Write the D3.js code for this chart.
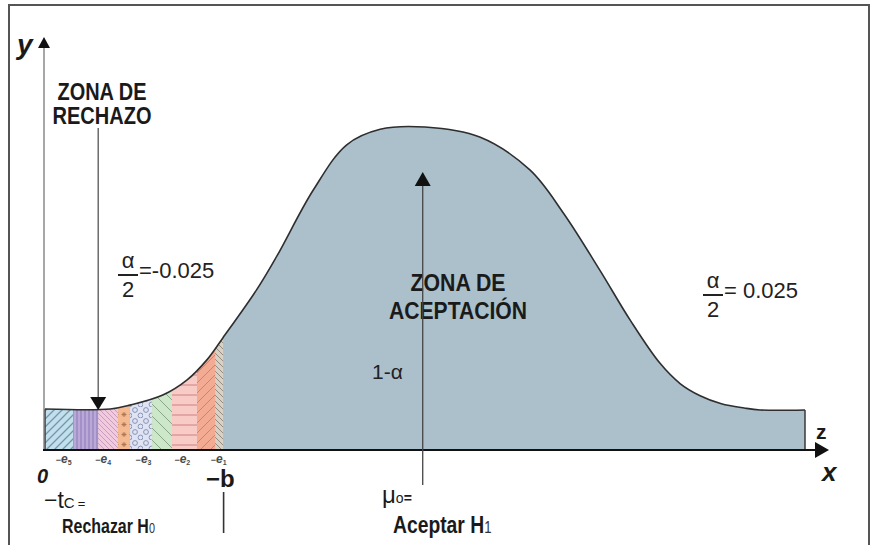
<!DOCTYPE html>
<html>
<head>
<meta charset="utf-8">
<script src="https://cdn.jsdelivr.net/npm/d3@7"></script>
<style>
  body { margin: 0; background: #fff; }
  svg { display: block; }
  .bold { font-family: "Liberation Sans", Arial, sans-serif; font-weight: bold; }
  .reg { font-family: "Liberation Sans", Arial, sans-serif; }
</style>
</head>
<body>
<svg id="chart" width="876" height="545"></svg>
<script>
// curve (x: 0..100 along the axis, y: 0..100 of peak height)
const curveX = [0, 8.6, 11.2, 15.5, 18.7, 21.3, 23.4, 27.9, 30.5, 35.3, 39.7, 44.1, 50, 57.2, 63.8, 68.2, 73.0, 77.0, 80.9, 83.6, 86.2, 89.0, 92.0, 94.1, 100];
const curveY = [12.7, 12.7, 13.9, 17.0, 21.7, 27.9, 34.7, 49.8, 60.0, 80.5, 94.5, 99.3, 100, 96.9, 86.7, 73.4, 55.7, 40.2, 26.9, 20.5, 16.8, 14.3, 13.0, 12.4, 12.4];

// rejection zone split into patterned strips
const stripEdges = [0, 3.7, 7.0, 9.6, 11.2, 14.1, 16.7, 20.0, 22.4, 23.4];
const stripPatterns = ["p1", "p2", "p3", "p4", "p5", "p6", "p7", "p8", "p9"];

// tick labels under the axis
const tickPos = [2.4, 7.6, 12.9, 18.0, 22.8];
const tickSub = ["5", "4", "3", "2", "1"];

const criticalX = 23.5;   // -b
const meanX = 49.7;       // mu0
const rejectArrowX = 7.0;

const curve = curveX.map((x, i) => ({ x: x, y: curveY[i] }));

const svg = d3.select("#chart");
const x = d3.scaleLinear().domain([0, 100]).range([45, 805]);
const y = d3.scaleLinear().domain([0, 100]).range([450, 127]);

// frame
svg.append("rect")
    .attr("x", 9).attr("y", 5)
    .attr("width", 860).attr("height", 560)
    .attr("fill", "none")
    .attr("stroke", "#555")
    .attr("stroke-width", 2);

const defs = svg.append("defs");

function pattern(id, w, h, bg, draw) {
    const p = defs.append("pattern")
        .attr("id", id)
        .attr("patternUnits", "userSpaceOnUse")
        .attr("width", w).attr("height", h);
    p.append("rect").attr("width", w).attr("height", h).attr("fill", bg);
    draw(p);
}

pattern("p1", 8, 8, "#bfe0ec", p => p.append("path")
    .attr("d", "M-2,2 L2,-2 M0,8 L8,0 M6,10 L10,6")
    .attr("stroke", "#7b93ab").attr("stroke-width", 1.3));
pattern("p2", 4, 8, "#b9a8d8", p => p.append("path")
    .attr("d", "M1,0 V8").attr("stroke", "#8b79b6").attr("stroke-width", 1));
pattern("p3", 5, 5, "#f2cadd", p => p.append("path")
    .attr("d", "M0,0 L5,5 M-1,4 L1,6 M4,-1 L6,1")
    .attr("stroke", "#c89cc0").attr("stroke-width", 1));
pattern("p4", 8, 10, "#f5ba92", p => p.append("path")
    .attr("d", "M4,2 V7 M1.5,4.5 H6.5 M2.3,2.8 L5.7,6.2 M5.7,2.8 L2.3,6.2")
    .attr("stroke", "#a8744f").attr("stroke-width", 0.9));
pattern("p5", 11, 11, "#dfe3f3", p => {
    p.append("circle").attr("cx", 3).attr("cy", 3).attr("r", 2.4)
        .attr("fill", "none").attr("stroke", "#7d8cae").attr("stroke-width", 0.9);
    p.append("circle").attr("cx", 8.5).attr("cy", 8.5).attr("r", 2.4)
        .attr("fill", "none").attr("stroke", "#7d8cae").attr("stroke-width", 0.9);
});
pattern("p6", 12, 12, "#cde8c8", p => p.append("path")
    .attr("d", "M0,0 L12,12").attr("stroke", "#8aa58a").attr("stroke-width", 1));
pattern("p7", 10, 10, "#f9cbc6", p => p.append("path")
    .attr("d", "M0,5 H10").attr("stroke", "#d38e8e").attr("stroke-width", 1.2));
pattern("p8", 10, 10, "#f3ac93", p => p.append("path")
    .attr("d", "M0,10 L10,0 M-1,1 L1,-1 M9,11 L11,9")
    .attr("stroke", "#d5806a").attr("stroke-width", 1));
pattern("p9", 6, 6, "#d9d1c5", p => p.append("path")
    .attr("d", "M0,0 L6,6 M-1,5 L1,7 M5,-1 L7,1")
    .attr("stroke", "#938a80").attr("stroke-width", 1));

const area = d3.area()
    .x(d => x(d.x))
    .y0(y(0))
    .y1(d => y(d.y))
    .curve(d3.curveCatmullRom.alpha(0.5));

defs.append("clipPath").attr("id", "under")
    .append("path").attr("d", area(curve));

svg.append("path")
    .attr("d", area(curve))
    .attr("fill", "#abc0cb");

svg.append("g")
    .attr("clip-path", "url(#under)")
    .selectAll("rect")
    .data(stripPatterns)
    .join("rect")
    .attr("x", (d, i) => x(stripEdges[i]))
    .attr("width", (d, i) => x(stripEdges[i + 1]) - x(stripEdges[i]) + 0.3)
    .attr("y", y(100))
    .attr("height", y(0) - y(100))
    .attr("fill", d => `url(#${d})`);

// outline of the curve
const line = d3.line()
    .x(d => x(d.x))
    .y(d => y(d.y))
    .curve(d3.curveCatmullRom.alpha(0.5));

svg.append("path")
    .attr("d", line(curve))
    .attr("fill", "none")
    .attr("stroke", "#2e2e2e")
    .attr("stroke-width", 1.6);

svg.selectAll(".edge")
    .data([curve[0], curve[curve.length - 1]])
    .join("line")
    .attr("class", "edge")
    .attr("x1", d => x(d.x)).attr("x2", d => x(d.x))
    .attr("y1", d => y(d.y)).attr("y2", y(0))
    .attr("stroke", "#3a3a3a")
    .attr("stroke-width", 1.5);

// y axis
svg.append("line")
    .attr("x1", x(0) - 1).attr("x2", x(0) - 1)
    .attr("y1", y(0)).attr("y2", 46)
    .attr("stroke", "#777").attr("stroke-width", 1.3);
svg.append("path")
    .attr("d", `M${x(0) - 1},37 L${x(0) - 7},48 L${x(0) + 5},48 Z`)
    .attr("fill", "#111");

// x axis with the e ticks
const xAxis = d3.axisBottom(x)
    .tickValues(tickPos)
    .tickSize(0)
    .tickFormat("");

const axisG = svg.append("g")
    .attr("transform", `translate(0,${y(0)})`)
    .call(xAxis);
axisG.select(".domain").remove();
axisG.selectAll(".tick text").each(function(d, i) {
    const t = d3.select(this)
        .attr("y", 13)
        .attr("dy", null)
        .attr("fill", "#4a4a4a")
        .attr("font-family", "Liberation Sans, Arial, sans-serif")
        .attr("font-weight", "bold")
        .attr("font-style", "italic")
        .attr("font-size", 12);
    t.append("tspan").attr("font-size", 9).attr("font-style", "normal").text("−");
    t.append("tspan").text("e");
    t.append("tspan").attr("font-size", 7).attr("font-style", "normal").attr("dy", 2).text(tickSub[i]);
});

svg.append("line")
    .attr("x1", x(0) - 2).attr("x2", 818)
    .attr("y1", y(0)).attr("y2", y(0))
    .attr("stroke", "#111").attr("stroke-width", 2);
svg.append("path")
    .attr("d", `M829,${y(0)} L815,${y(0) - 8} L815,${y(0) + 8} Z`)
    .attr("fill", "#111");

// axis names
svg.append("text").attr("class", "reg")
    .attr("x", 17).attr("y", 54)
    .attr("font-size", 28).attr("font-weight", "bold").attr("font-style", "italic")
    .attr("fill", "#1a1a1a").text("y");
svg.append("text").attr("class", "reg")
    .attr("x", 822).attr("y", 481)
    .attr("font-size", 26).attr("font-weight", "bold").attr("font-style", "italic")
    .attr("fill", "#1a1a1a").text("x");
svg.append("text").attr("class", "reg")
    .attr("x", 816).attr("y", 439)
    .attr("font-size", 21).attr("font-weight", "bold")
    .attr("fill", "#1a1a1a").text("z");
svg.append("text").attr("class", "reg")
    .attr("x", 37).attr("y", 483)
    .attr("font-size", 20).attr("font-weight", "bold").attr("font-style", "italic")
    .attr("fill", "#1a1a1a").text("0");

// condensed bold label
function narrowText(str, xc, yb, size, len, anchor) {
    return svg.append("text").attr("class", "bold")
        .attr("x", xc).attr("y", yb)
        .attr("text-anchor", anchor || "middle")
        .attr("font-size", size)
        .attr("fill", "#1a1a1a")
        .attr("textLength", len)
        .attr("lengthAdjust", "spacingAndGlyphs")
        .text(str);
}

// condensed label with a small index, drawn by squeezing horizontally
function squeezed(main, sub, xl, yb, size, sx) {
    const t = svg.append("text").attr("class", "bold")
        .attr("transform", `translate(${xl},${yb}) scale(${sx},1)`)
        .attr("font-size", size)
        .attr("fill", "#1a1a1a");
    t.append("tspan").text(main);
    t.append("tspan").attr("font-size", size * 0.68).attr("font-weight", "normal")
        .attr("fill", "#333").text(sub);
}

// rejection zone label and arrow
narrowText("ZONA DE", 102, 100, 23, 89);
narrowText("RECHAZO", 102, 124, 23, 99);

const rejTipY = y(curveY[0]);
svg.append("line")
    .attr("x1", x(rejectArrowX)).attr("x2", x(rejectArrowX))
    .attr("y1", 128).attr("y2", rejTipY - 10)
    .attr("stroke", "#555").attr("stroke-width", 1.3);
svg.append("path")
    .attr("d", `M${x(rejectArrowX)},${rejTipY + 1} L${x(rejectArrowX) - 8},${rejTipY - 12} L${x(rejectArrowX) + 8},${rejTipY - 12} Z`)
    .attr("fill", "#111");

// acceptance zone
narrowText("ZONA DE", 458, 291, 24, 95);
narrowText("ACEPTACIÓN", 458, 319, 24, 138);

svg.append("line")
    .attr("x1", x(meanX)).attr("x2", x(meanX))
    .attr("y1", 184).attr("y2", 485)
    .attr("stroke", "#444").attr("stroke-width", 1.3);
svg.append("path")
    .attr("d", `M${x(meanX)},172 L${x(meanX) - 8},186 L${x(meanX) + 8},186 Z`)
    .attr("fill", "#111");

svg.append("text").attr("class", "reg")
    .attr("x", 372).attr("y", 379)
    .attr("font-size", 21).attr("fill", "#222").text("1-α");

// alpha/2 labels
function half(xLeft, baseAlpha, value) {
    const g = svg.append("g").attr("fill", "#222");
    g.append("text").attr("class", "reg")
        .attr("x", xLeft + 10).attr("y", baseAlpha).attr("text-anchor", "middle")
        .attr("font-size", 22).text("α");
    g.append("line")
        .attr("x1", xLeft).attr("x2", xLeft + 20)
        .attr("y1", baseAlpha + 7).attr("y2", baseAlpha + 7)
        .attr("stroke", "#222").attr("stroke-width", 2);
    g.append("text").attr("class", "reg")
        .attr("x", xLeft + 10).attr("y", baseAlpha + 29).attr("text-anchor", "middle")
        .attr("font-size", 22).text("2");
    g.append("text").attr("class", "reg")
        .attr("x", xLeft + 21).attr("y", baseAlpha + 10)
        .attr("font-size", 22).text(value);
}
half(118, 268, "=-0.025");
half(703, 288, "= 0.025");

// bottom labels
svg.append("text").attr("class", "reg")
    .attr("x", 206).attr("y", 487)
    .attr("font-size", 24).attr("font-weight", "bold")
    .attr("fill", "#1a1a1a").text("−b");
svg.append("line")
    .attr("x1", x(criticalX)).attr("x2", x(criticalX))
    .attr("y1", 492).attr("y2", 533)
    .attr("stroke", "#333").attr("stroke-width", 1.6);

const tc = svg.append("text").attr("class", "reg")
    .attr("x", 44).attr("y", 508).attr("fill", "#1a1a1a");
tc.append("tspan").attr("font-size", 23).text("−t");
tc.append("tspan").attr("font-size", 15).text("C");
tc.append("tspan").attr("font-size", 13).attr("dx", 3).text("=");

squeezed("Rechazar H", "0", 62, 533, 21, 0.76);

const mu = svg.append("text").attr("class", "reg")
    .attr("x", 382).attr("y", 503).attr("fill", "#1a1a1a");
mu.append("tspan").attr("font-size", 24).text("μ");
mu.append("tspan").attr("font-size", 14).text("o");
mu.append("tspan").attr("font-size", 14).attr("font-weight", "bold").text("=");

squeezed("Aceptar H", "1", 393, 533, 23, 0.84);
</script>
</body>
</html>
